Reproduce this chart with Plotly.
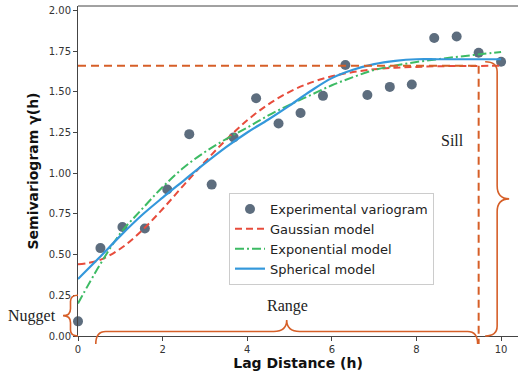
import plotly.graph_objects as go

# ---------------- data ----------------
lag = [0.0, 0.53, 1.05, 1.58, 2.11, 2.63, 3.16, 3.68, 4.21, 4.74,
       5.26, 5.79, 6.32, 6.84, 7.37, 7.89, 8.42, 8.95, 9.47, 10.0]
gamma_exp = [0.09, 0.54, 0.67, 0.66, 0.90, 1.24, 0.93, 1.22, 1.46, 1.305,
             1.37, 1.475, 1.665, 1.48, 1.53, 1.545, 1.83, 1.84, 1.74, 1.685]

model_h = [0.0, 0.5, 1.0, 1.5, 2.0, 2.5, 3.0, 3.5, 4.0, 4.5, 5.0,
           5.5, 6.0, 6.5, 7.0, 7.5, 8.0, 8.5, 9.0, 9.5, 10.0]
gaussian = [0.44, 0.465, 0.536, 0.645, 0.78, 0.927, 1.07, 1.205, 1.325, 1.423, 1.50,
            1.556, 1.595, 1.621, 1.638, 1.648, 1.653, 1.657, 1.658, 1.659, 1.66]
exponential = [0.20, 0.43, 0.63, 0.776, 0.915, 1.035, 1.13, 1.21, 1.28, 1.355, 1.42,
               1.48, 1.54, 1.59, 1.634, 1.661, 1.683, 1.70, 1.716, 1.73, 1.745]
spherical = [0.35, 0.48, 0.615, 0.74, 0.85, 0.955, 1.06, 1.16, 1.25, 1.33, 1.415,
             1.505, 1.584, 1.635, 1.67, 1.69, 1.70, 1.70, 1.70, 1.70, 1.70]

SILL = 1.66
RANGE = 9.47
RANGE_START = 0.42
NUGGET = 0.25

x_ticks = [0, 2, 4, 6, 8, 10]
y_ticks = [0.0, 0.25, 0.5, 0.75, 1.0, 1.25, 1.5, 1.75, 2.0]

# ---------------- layout geometry ----------------
W, H = 518, 374
ML, MR, MT, MB = 78, 0, 6, 38
PW, PH = W - ML - MR, H - MT - MB
XR = [0, 10.4]
YR = [0, 2.027]

ORANGE = "#d65f28"


def X(d):  # data -> pixel
    return ML + (d - XR[0]) / (XR[1] - XR[0]) * PW


def Y(d):
    return MT + PH - (d - YR[0]) / (YR[1] - YR[0]) * PH


def px(xp):  # pixel -> paper
    return (xp - ML) / PW


def py(yp):
    return (MT + PH - yp) / PH


def P(xp, yp):
    return f"{px(xp):.5f},{py(yp):.5f}"


def hbrace(xa, xb, y_tip, y_line, y_peak, r=10, rc=13):
    xm = (xa + xb) / 2
    return (f"M {P(xa, y_tip)} Q {P(xa, y_line)} {P(xa + r, y_line)} "
            f"L {P(xm - rc, y_line)} Q {P(xm, y_line)} {P(xm, y_peak)} "
            f"Q {P(xm, y_line)} {P(xm + rc, y_line)} "
            f"L {P(xb - r, y_line)} Q {P(xb, y_line)} {P(xb, y_tip)}")


def vbrace(ya, yb, x_tip, x_line, x_peak, r=10, rc=13):
    ym = (ya + yb) / 2
    return (f"M {P(x_tip, ya)} Q {P(x_line, ya)} {P(x_line, ya + r)} "
            f"L {P(x_line, ym - rc)} Q {P(x_line, ym)} {P(x_peak, ym)} "
            f"Q {P(x_line, ym)} {P(x_line, ym + rc)} "
            f"L {P(x_line, yb - r)} Q {P(x_line, yb)} {P(x_tip, yb)}")


fig = go.Figure()
fig.add_trace(go.Scatter(x=lag, y=gamma_exp, mode="markers", name="Experimental variogram",
                         marker=dict(size=10, color="#5d6d7e"), cliponaxis=False))
fig.add_trace(go.Scatter(x=model_h, y=gaussian, mode="lines", name="Gaussian model",
                         line=dict(color="#e74c3c", width=2, dash="7px,4px"), line_shape="spline"))
fig.add_trace(go.Scatter(x=model_h, y=exponential, mode="lines", name="Exponential model",
                         line=dict(color="#3dbb64", width=2, dash="9px,3px,2px,3px"), line_shape="spline"))
fig.add_trace(go.Scatter(x=model_h, y=spherical, mode="lines", name="Spherical model",
                         line=dict(color="#3498db", width=2.2), line_shape="spline"))

shapes = []
# top spine
shapes.append(dict(type="line", xref="paper", yref="paper", x0=0, x1=1, y0=1, y1=1,
                   line=dict(color="#444", width=1)))
# sill horizontal dashed line
shapes.append(dict(type="line", xref="paper", yref="paper", x0=px(X(0)), x1=px(X(RANGE)),
                   y0=py(Y(SILL)), y1=py(Y(SILL)), line=dict(color=ORANGE, width=2, dash="8px,5px")))
# range vertical dashed line
shapes.append(dict(type="line", xref="paper", yref="paper", x0=px(X(RANGE)), x1=px(X(RANGE)),
                   y0=py(Y(SILL)), y1=py(Y(0) + 8), line=dict(color=ORANGE, width=2, dash="8px,5px")))
# range brace
shapes.append(dict(type="path", xref="paper", yref="paper",
                   path=hbrace(X(RANGE_START), X(RANGE) - 1, Y(0) + 8, Y(0) - 4.5, Y(0) - 16),
                   line=dict(color=ORANGE, width=1.6)))
# sill brace
xl = X(RANGE) + 18.5
shapes.append(dict(type="path", xref="paper", yref="paper",
                   path=vbrace(Y(SILL) - 4, Y(0), xl - 12, xl, xl + 12),
                   line=dict(color=ORANGE, width=1.6)))
# nugget brace
shapes.append(dict(type="path", xref="paper", yref="paper",
                   path=vbrace(Y(NUGGET), Y(0), X(0), X(0) - 7.5, X(0) - 15, r=6, rc=7),
                   line=dict(color=ORANGE, width=1.6)))

serif = dict(family="Liberation Serif, Times New Roman, serif", size=16, color="#222")
annotations = [
    dict(text="Sill", x=8.86, y=1.20, xref="x", yref="y", showarrow=False, font=serif,
         xanchor="center", yanchor="middle"),
    dict(text="Range", x=(RANGE_START + RANGE) / 2, y=0, xref="x", yref="y",
         yshift=30, showarrow=False, font=serif, xanchor="center", yanchor="middle"),
    dict(text="Nugget", x=px(32), y=NUGGET / 2, xref="paper", yref="y",
         showarrow=False, font=serif, xanchor="center", yanchor="middle"),
]

fig.update_layout(
    width=W, height=H,
    margin=dict(l=ML, r=MR, t=MT, b=MB),
    plot_bgcolor="white", paper_bgcolor="white",
    font=dict(family="DejaVu Sans", color="#333"),
    shapes=shapes, annotations=annotations,
    showlegend=True,
    legend=dict(x=px(229), y=py(193), xanchor="left", yanchor="top",
                bgcolor="white", bordercolor="#cccccc", borderwidth=1,
                font=dict(size=13, color="#222", family="DejaVu Sans")),
    xaxis=dict(range=XR, tickvals=x_ticks, ticks="outside", ticklen=4, tickcolor="#444",
               showline=True, linecolor="#444", linewidth=1, showgrid=False, zeroline=False,
               tickfont=dict(size=10, color="#333"),
               title=dict(text="<b>Lag Distance (h)</b>", font=dict(size=14, color="#111"), standoff=4)),
    yaxis=dict(range=YR, tickvals=y_ticks, tickformat=".2f", ticks="outside", ticklen=4, tickcolor="#444",
               showline=True, linecolor="#444", linewidth=1, showgrid=False, zeroline=False,
               tickfont=dict(size=10, color="#333"),
               title=dict(text="<b>Semivariogram γ(h)</b>", font=dict(size=14, color="#111"), standoff=6)),
)

fig.write_html("out.html")
